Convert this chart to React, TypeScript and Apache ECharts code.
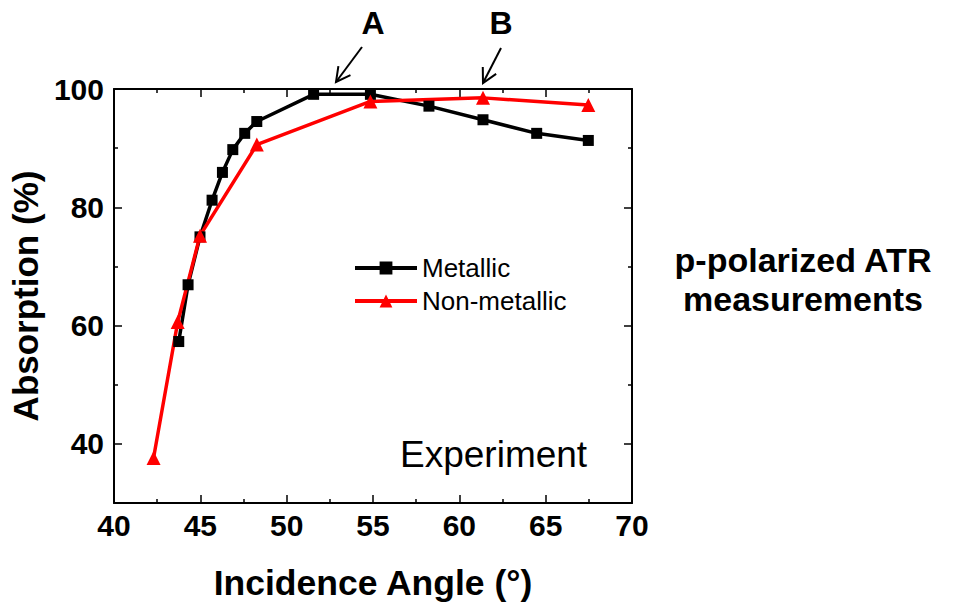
import React, { useEffect, useRef } from "react";
import * as echarts from "echarts";

const xMetallic = [43.75, 44.29, 44.98, 45.68, 46.28, 46.88, 47.57, 48.27, 51.56, 54.85, 58.24, 61.37, 64.48, 67.47];
const yMetallic = [57.3, 66.9, 75.0, 81.2, 85.9, 89.75, 92.5, 94.5, 99.1, 99.1, 97.1, 94.8, 92.5, 91.3];
const xNonMetallic = [42.29, 43.69, 44.98, 48.27, 54.85, 61.37, 67.47];
const yNonMetallic = [37.6, 60.6, 75.2, 90.6, 97.9, 98.5, 97.3];
const yMajorTicks = [40, 60, 80, 100];
const yMinorTicks = [50, 70, 90];

const FONT = "Liberation Sans, Arial, sans-serif";
const SIDE_FONT = `bold 34px "Liberation Sans", Arial, sans-serif`;

function arrow(fromX: number, fromY: number, tipX: number, tipY: number) {
  const a = Math.atan2(fromY - tipY, fromX - tipX);
  const len = 16;
  const ang = (28 * Math.PI) / 180;
  return [
    {
      type: "line",
      shape: { x1: fromX, y1: fromY, x2: tipX, y2: tipY },
      style: { stroke: "#000", lineWidth: 2 },
    },
    {
      type: "polyline",
      shape: {
        points: [
          [tipX + len * Math.cos(a + ang), tipY + len * Math.sin(a + ang)],
          [tipX, tipY],
          [tipX + len * Math.cos(a - ang), tipY + len * Math.sin(a - ang)],
        ],
      },
      style: { stroke: "#000", lineWidth: 2, fill: null },
    },
  ];
}

export default function App() {
  const ref = useRef<HTMLDivElement>(null);
  useEffect(() => {
    document.body.style.margin = "0";
    const chart = echarts.init(ref.current!, null, { renderer: "svg" });
    const axisLine = { show: true, lineStyle: { color: "#000", width: 2 } };
    const majorX = { show: true, inside: true, length: 8, lineStyle: { color: "#000", width: 1.5 } };
    const minorX = { show: true, splitNumber: 2, length: 4, lineStyle: { color: "#000", width: 1.5 } };
    const xBase = {
      type: "value",
      min: 40,
      max: 70,
      interval: 5,
      axisLine,
      axisTick: majorX,
      minorTick: minorX,
      splitLine: { show: false },
    };
    const yBase = {
      type: "value",
      min: 30,
      max: 100,
      axisLine,
      splitLine: { show: false },
    };
    const option: any = {
      animation: false,
      backgroundColor: "#fff",
      grid: { left: 114, top: 89, right: 323, bottom: 101 },
      xAxis: [
        {
          ...xBase,
          position: "bottom",
          name: "Incidence Angle (°)",
          nameLocation: "middle",
          nameGap: 62,
          nameTextStyle: { fontFamily: FONT, fontWeight: "bold", fontSize: 35.5, color: "#000" },
          axisLabel: {
            margin: 7,
            fontFamily: FONT,
            fontWeight: "bold",
            fontSize: 30,
            color: "#000",
          },
        },
        {
          ...xBase,
          position: "top",
          axisLabel: { show: false },
        },
      ],
      yAxis: [
        {
          ...yBase,
          position: "left",
          name: "Absorption (%)",
          nameLocation: "middle",
          nameGap: 66,
          nameRotate: 90,
          nameTextStyle: { fontFamily: FONT, fontWeight: "bold", fontSize: 35, color: "#000" },
          axisTick: { show: true, inside: true, length: 8, customValues: yMajorTicks, lineStyle: { color: "#000", width: 1.5 } },
          axisLabel: {
            show: true,
            customValues: yMajorTicks,
            margin: 10,
            fontFamily: FONT,
            fontWeight: "bold",
            fontSize: 30,
            color: "#000",
          },
        },
        {
          ...yBase,
          position: "right",
          axisTick: { show: true, inside: true, length: 8, customValues: yMajorTicks, lineStyle: { color: "#000", width: 1.5 } },
          axisLabel: { show: false },
        },
        {
          ...yBase,
          position: "left",
          axisLine: { show: false },
          axisTick: { show: true, inside: true, length: 4, customValues: yMinorTicks, lineStyle: { color: "#000", width: 1.5 } },
          axisLabel: { show: false },
        },
        {
          ...yBase,
          position: "right",
          axisLine: { show: false },
          axisTick: { show: true, inside: true, length: 4, customValues: yMinorTicks, lineStyle: { color: "#000", width: 1.5 } },
          axisLabel: { show: false },
        },
      ],
      legend: {
        orient: "vertical",
        left: 348,
        top: 250,
        itemWidth: 62,
        itemHeight: 16,
        itemGap: 7,
        lineStyle: { width: 4 },
        textStyle: { fontFamily: FONT, fontSize: 26, color: "#000", lineHeight: 26 },
        data: ["Metallic", "Non-metallic"],
      },
      series: [
        {
          name: "Metallic",
          type: "line",
          xAxisIndex: 0,
          yAxisIndex: 0,
          data: xMetallic.map((x, i) => [x, yMetallic[i]]),
          symbol: "rect",
          symbolSize: 11,
          itemStyle: { color: "#000" },
          lineStyle: { color: "#000", width: 3.5 },
        },
        {
          name: "Non-metallic",
          type: "line",
          xAxisIndex: 0,
          yAxisIndex: 0,
          data: xNonMetallic.map((x, i) => [x, yNonMetallic[i]]),
          symbol: "triangle",
          symbolSize: 14,
          itemStyle: { color: "#ff0000" },
          lineStyle: { color: "#ff0000", width: 3.5 },
        },
      ],
      graphic: [
        ...arrow(362, 47, 336, 82),
        ...arrow(501, 48, 483, 83),
        {
          type: "text",
          x: 373,
          y: 23,
          style: { text: "A", font: `bold 32px ${FONT}`, fill: "#000", align: "center", verticalAlign: "middle" },
        },
        {
          type: "text",
          x: 501,
          y: 23,
          style: { text: "B", font: `bold 32px ${FONT}`, fill: "#000", align: "center", verticalAlign: "middle" },
        },
        {
          type: "text",
          x: 400,
          y: 454,
          style: { text: "Experiment", font: `37px ${FONT}`, fill: "#000", align: "left", verticalAlign: "middle" },
        },
        {
          type: "text",
          x: 803,
          y: 260,
          style: { text: "p-polarized ATR", font: SIDE_FONT, fill: "#000", align: "center", verticalAlign: "middle" },
        },
        {
          type: "text",
          x: 803,
          y: 299,
          style: { text: "measurements", font: SIDE_FONT, fill: "#000", align: "center", verticalAlign: "middle" },
        },
      ],
    };
    chart.setOption(option);
    return () => chart.dispose();
  }, []);
  return <div ref={ref} style={{ position: "absolute", left: 0, top: 0, width: 955, height: 606 }} />;
}
